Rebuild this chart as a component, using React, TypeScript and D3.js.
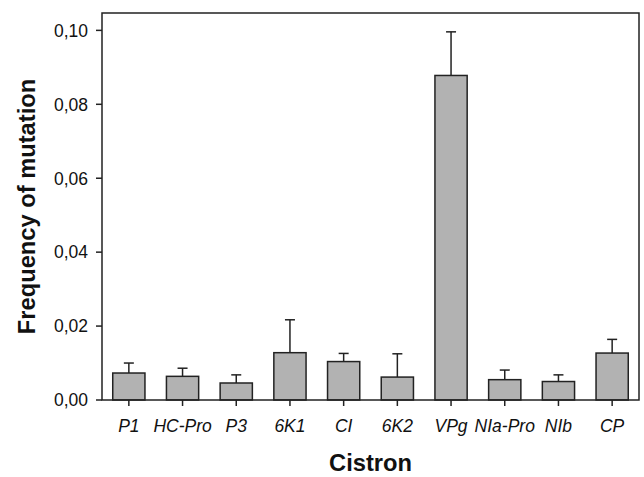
import React from "react";
import * as d3 from "d3";

const categories = ["P1", "HC-Pro", "P3", "6K1", "CI", "6K2", "VPg", "NIa-Pro", "NIb", "CP"];
const means = [0.0073, 0.0064, 0.0046, 0.0128, 0.0104, 0.0062, 0.0878, 0.0055, 0.005, 0.0127];
const upperErr = [0.01, 0.0086, 0.0068, 0.0217, 0.0126, 0.0125, 0.0996, 0.0081, 0.0068, 0.0164];
const yTicks = [0, 0.02, 0.04, 0.06, 0.08, 0.1];

const W = 644;
const H = 477;
const left = 102;
const right = 639;
const top = 13;
const bottom = 400;
const yMax = 0.1047;

export default function App() {
  const x = d3.scaleBand<string>().domain(categories).range([left, right]).paddingInner(0.4).paddingOuter(0.2);
  const y = d3.scaleLinear().domain([0, yMax]).range([bottom, top]);
  const fmt = (v: number) => d3.format(".2f")(v).replace(".", ",");
  const stroke = "#222";
  const font = "'Liberation Sans', Arial, sans-serif";
  const capW = 10;
  return (
    <div style={{ position: "fixed", left: 0, top: 0 }}>
      <svg width={W} height={H} style={{ display: "block", background: "#fff" }}>
        {categories.map((c, i) => {
          const bx = x(c)!;
          const bw = x.bandwidth();
          const cx = bx + bw / 2;
          return (
            <g key={c}>
              <line x1={cx} x2={cx} y1={y(means[i])} y2={y(upperErr[i])} stroke={stroke} strokeWidth={1.5} />
              <line x1={cx - capW / 2} x2={cx + capW / 2} y1={y(upperErr[i])} y2={y(upperErr[i])} stroke={stroke} strokeWidth={1.5} />
              <rect x={bx} y={y(means[i])} width={bw} height={bottom - y(means[i])} fill="#b2b2b2" stroke={stroke} strokeWidth={1.5} />
            </g>
          );
        })}
        <rect x={left} y={top} width={right - left} height={bottom - top} fill="none" stroke={stroke} strokeWidth={1.5} />
        {yTicks.map((t) => (
          <g key={t}>
            <line x1={left - 6} x2={left} y1={y(t)} y2={y(t)} stroke={stroke} strokeWidth={1.5} />
            <text x={left - 14} y={y(t)} dy="0.36em" textAnchor="end" fontFamily={font} fontSize={17.5} fill="#111">
              {fmt(t)}
            </text>
          </g>
        ))}
        {categories.map((c) => {
          const cx = x(c)! + x.bandwidth() / 2;
          return (
            <g key={"t" + c}>
              <line x1={cx} x2={cx} y1={bottom} y2={bottom + 6} stroke={stroke} strokeWidth={1.5} />
              <text x={cx} y={432} textAnchor="middle" fontFamily={font} fontStyle="italic" fontSize={17.5} fill="#111">
                {c}
              </text>
            </g>
          );
        })}
        <text x={(left + right) / 2} y={471} textAnchor="middle" fontFamily={font} fontWeight="bold" fontSize={23.7} fill="#111">
          Cistron
        </text>
        <text transform={`translate(35, ${(top + bottom) / 2}) rotate(-90)`} textAnchor="middle" fontFamily={font} fontWeight="bold" fontSize={23.7} fill="#111">
          Frequency of mutation
        </text>
      </svg>
    </div>
  );
}
